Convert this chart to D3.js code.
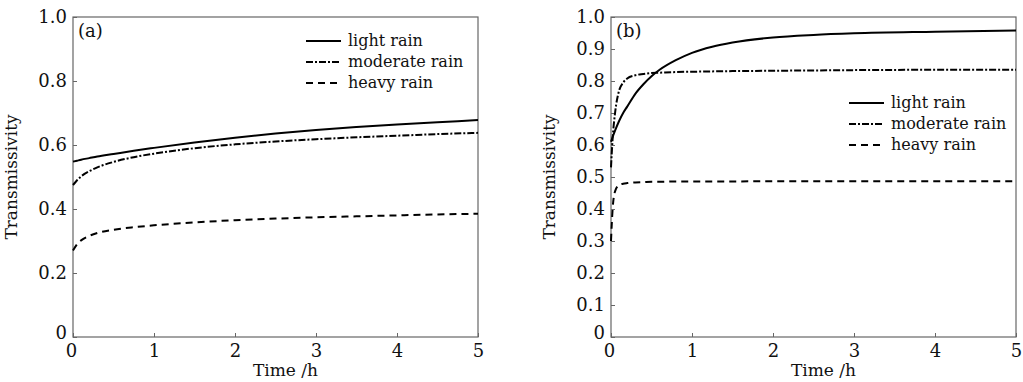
<!DOCTYPE html>
<html>
<head>
<meta charset="utf-8">
<script src="https://cdn.jsdelivr.net/npm/d3@7"></script>
<style>
  body { margin: 0; background: #fff; }
  svg text { font-family: "DejaVu Serif", serif; fill: #111; }
</style>
</head>
<body>
<div id="chart"></div>
<script>
// Data
var seriesNames = ["light rain", "moderate rain", "heavy rain"];

// panel (a)
var timeA = [0, 0.05, 0.1, 0.2, 0.3, 0.5, 0.75, 1, 1.5, 2, 2.5, 3, 3.5, 4, 4.5, 5];
var lightA = [0.548, 0.551, 0.554, 0.559, 0.564, 0.572, 0.582, 0.591, 0.608, 0.623, 0.636, 0.647, 0.656, 0.664, 0.671, 0.678];
var moderateA = [0.475, 0.49, 0.502, 0.518, 0.53, 0.547, 0.562, 0.573, 0.59, 0.602, 0.611, 0.618, 0.624, 0.629, 0.634, 0.638];
var heavyA = [0.27, 0.29, 0.302, 0.316, 0.325, 0.335, 0.343, 0.349, 0.358, 0.365, 0.37, 0.374, 0.377, 0.38, 0.383, 0.385];

// panel (b)
var timeB = [0, 0.02, 0.05, 0.1, 0.15, 0.2, 0.3, 0.4, 0.5, 0.6, 0.8, 1, 1.25, 1.5, 2, 2.5, 3, 4, 5];
var lightB = [0.61, 0.625, 0.645, 0.675, 0.7, 0.72, 0.76, 0.79, 0.815, 0.835, 0.865, 0.888, 0.907, 0.92, 0.936, 0.944, 0.949, 0.954, 0.958];
var moderateB = [0.53, 0.62, 0.7, 0.77, 0.795, 0.808, 0.818, 0.822, 0.825, 0.826, 0.828, 0.829, 0.83, 0.831, 0.832, 0.833, 0.834, 0.835, 0.835];
var heavyB = [0.3, 0.4, 0.455, 0.475, 0.479, 0.481, 0.483, 0.484, 0.485, 0.485, 0.486, 0.486, 0.486, 0.486, 0.487, 0.487, 0.487, 0.487, 0.487];

var xTicks = [0, 1, 2, 3, 4, 5];
var yTicksA = [0, 0.2, 0.4, 0.6, 0.8, 1.0];
var yTicksB = [0, 0.1, 0.2, 0.3, 0.4, 0.5, 0.6, 0.7, 0.8, 0.9, 1.0];

var svgWidth = 1023;
var svgHeight = 382;

var svg = d3.select("#chart")
  .append("svg")
  .attr("width", svgWidth)
  .attr("height", svgHeight);

var dashes = [null, "7,2,2,2", "7,5"];

function drawPanel(opts) {
  var x = d3.scaleLinear().domain([0, 5]).range([opts.left, opts.right]);
  var y = d3.scaleLinear().domain([0, 1]).range([opts.bottom, opts.top]);
  var g = svg.append("g");

  // frame
  g.append("rect")
    .attr("x", opts.left)
    .attr("y", opts.top)
    .attr("width", opts.right - opts.left)
    .attr("height", opts.bottom - opts.top)
    .attr("fill", "none")
    .attr("stroke", "#666")
    .attr("stroke-width", 1.2);

  // axes with inward ticks
  var bottomAxis = d3.axisBottom(x).tickValues(xTicks).tickSize(-4).tickPadding(7).tickFormat(d3.format("d"));
  var leftAxis = d3.axisLeft(y).tickValues(opts.yTicks).tickSize(-4).tickPadding(6)
    .tickFormat(function(d) { return d === 0 ? "0" : d3.format(".1f")(d); });

  var xg = g.append("g")
    .attr("transform", `translate(0, ${opts.bottom})`)
    .call(bottomAxis);
  var yg = g.append("g")
    .attr("transform", `translate(${opts.left}, 0)`)
    .call(leftAxis);

  [xg, yg].forEach(function(a) {
    a.attr("font-family", null).attr("font-size", null);
    a.select(".domain").remove();
    a.selectAll("line").attr("stroke", "#666");
    a.selectAll("text").style("font-size", "18px");
  });
  xg.selectAll("text").attr("dy", "0.72em");
  // nudge the 0 tick labels apart like the reference
  xg.selectAll("text").filter(function(d) { return d === 0; }).attr("dx", "-2");
  yg.selectAll("text").filter(function(d) { return d === 0; }).attr("dy", "0.1em");

  // curves
  var line = d3.line()
    .x(function(d) { return x(d[0]); })
    .y(function(d) { return y(d[1]); })
    .curve(d3.curveMonotoneX);

  opts.series.forEach(function(s, i) {
    g.append("path")
      .datum(opts.time.map(function(t, j) { return [t, s[j]]; }))
      .attr("d", line)
      .attr("fill", "none")
      .attr("stroke", "#000")
      .attr("stroke-width", 2)
      .attr("stroke-dasharray", dashes[i]);
  });

  // panel label
  g.append("text")
    .attr("x", opts.left + 5)
    .attr("y", opts.top + 20)
    .style("font-size", "18px")
    .text(opts.label);

  // legend
  seriesNames.forEach(function(name, i) {
    var ly = opts.legendY + i * 21;
    g.append("line")
      .attr("x1", opts.legendX)
      .attr("x2", opts.legendX + 35)
      .attr("y1", ly)
      .attr("y2", ly)
      .attr("stroke", "#000")
      .attr("stroke-width", 2)
      .attr("stroke-dasharray", dashes[i]);
    g.append("text")
      .attr("x", opts.legendX + 42)
      .attr("y", ly + 5)
      .style("font-size", "16px")
      .text(name);
  });

  // axis titles
  g.append("text")
    .attr("transform", `translate(${opts.left - 56}, ${(opts.top + opts.bottom) / 2}) rotate(-90)`)
    .attr("text-anchor", "middle")
    .style("font-size", "17px")
    .text("Transmissivity");

  g.append("text")
    .attr("x", (opts.left + opts.right) / 2 + 10)
    .attr("y", opts.bottom + 39)
    .attr("text-anchor", "middle")
    .style("font-size", "17px")
    .text("Time /h");
}

drawPanel({
  left: 73, right: 478, top: 17, bottom: 337,
  yTicks: yTicksA, time: timeA, series: [lightA, moderateA, heavyA],
  label: "(a)", legendX: 306, legendY: 41
});

drawPanel({
  left: 611, right: 1016, top: 17, bottom: 337,
  yTicks: yTicksB, time: timeB, series: [lightB, moderateB, heavyB],
  label: "(b)", legendX: 849, legendY: 103
});
</script>
</body>
</html>
